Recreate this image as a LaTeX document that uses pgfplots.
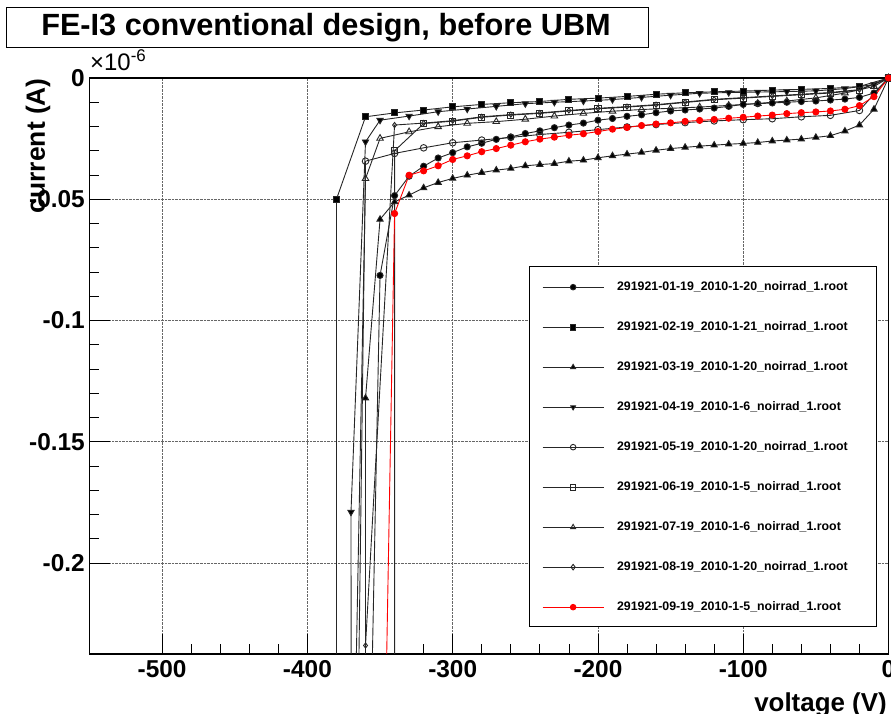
\documentclass[border=0pt]{standalone}
\usepackage{fontspec}
\setmainfont{Liberation Sans}
\usepackage{pgfplots}
\pgfplotsset{compat=1.18}

\newcommand\lbl[1]{\fontsize{#1}{#1}\selectfont\bfseries}

\pgfplotsset{
  ivline/.style={black!85, line width=0.9bp, mark options={solid}},
}

\begin{document}
\begin{tikzpicture}
\useasboundingbox (-89.5bp,-60bp) rectangle (801.5bp,654bp);
\begin{axis}[
  at={(0,0)}, anchor=south west,
  scale only axis, width=799bp, height=576bp,
  xmin=-550, xmax=0, ymin=-0.2375, ymax=0,
  xtick={-500,-400,-300,-200,-100,0},
  xticklabels={-500,-400,-300,-200,-100,0},
  ytick={-0.2,-0.15,-0.1,-0.05,0},
  yticklabels={-0.2,-0.15,-0.1,-0.05,0},
  minor x tick num=4, minor y tick num=4,
  tick align=inside, tick pos=left,
  major tick length=20bp, minor tick length=10bp,
  grid=major, grid style={densely dotted, black!60, line width=0.6bp},
  axis line style={line width=1.1bp},
  tick style={black, line width=0.8bp},
  ticklabel style={font=\lbl{24.5}},
  xticklabel style={inner sep=0pt, yshift=-6bp},
  yticklabel style={inner sep=0pt, xshift=-4.5bp},
  xlabel={voltage (V)},
  xlabel style={at={(axis description cs:0.998,-0.1007)}, anchor=base east, inner sep=0pt, font=\lbl{26}},
  ylabel={current (A)},
  ylabel style={at={(axis description cs:-0.0557,1)}, anchor=base east, inner sep=0pt, font=\lbl{26.5}},
  legend style={at={(0.5663,0.6476)}, anchor=north west, draw=none, fill=none,
    inner sep=0pt, row sep=28bp, column sep=13bp, font=\lbl{12.4},
    nodes={inner sep=0pt, text height=9bp, text depth=3bp}, cells={anchor=west}},
  legend image code/.code={\draw[mark repeat=2,mark phase=2,#1,mark size=2.8bp] plot coordinates {(0bp,0bp) (30.5bp,0bp) (61bp,0bp)};},
]

% 01 filled circle
\addplot[ivline, mark=*, mark size=3.1bp, mark options={fill=black}] coordinates {
(0,0) (-10,-0.0062) (-20,-0.0080) (-30,-0.0087) (-40,-0.0091) (-50,-0.0095)
(-60,-0.0097) (-70,-0.0100) (-80,-0.0103) (-90,-0.0106) (-100,-0.0109)
(-110,-0.0117) (-120,-0.0124) (-130,-0.0128) (-140,-0.0132) (-150,-0.0136)
(-160,-0.0143) (-170,-0.0152) (-180,-0.0158) (-190,-0.0167) (-200,-0.0174)
(-210,-0.0186) (-220,-0.0194) (-230,-0.0205) (-240,-0.0218) (-250,-0.0229)
(-260,-0.0243) (-270,-0.0253) (-280,-0.0269) (-290,-0.0284) (-300,-0.0308)
(-310,-0.0330) (-320,-0.0364) (-330,-0.0405) (-340,-0.0485) (-350,-0.0814)
(-356,-0.26)
};
\addlegendentry{291921-01-19\_2010-1-20\_noirrad\_1.root}

% 02 filled square
\addplot[ivline, mark=square*, mark size=3bp, mark options={fill=black}] coordinates {
(0,0) (-20,-0.0035) (-40,-0.0043) (-60,-0.0047) (-80,-0.0050) (-100,-0.0054)
(-120,-0.0057) (-140,-0.0061) (-160,-0.0067) (-180,-0.0076) (-200,-0.0083)
(-220,-0.0088) (-240,-0.0097) (-260,-0.0102) (-280,-0.0109) (-300,-0.0119)
(-320,-0.0132) (-340,-0.0144) (-360,-0.0160) (-380,-0.0500) (-380,-0.5)
};
\addlegendentry{291921-02-19\_2010-1-21\_noirrad\_1.root}

% 03 filled triangle
\addplot[ivline, mark=triangle*, mark size=3.6bp, mark options={fill=black}] coordinates {
(0,0) (-10,-0.0129) (-20,-0.0194) (-30,-0.0219) (-40,-0.0238) (-50,-0.0245)
(-60,-0.0252) (-70,-0.0256) (-80,-0.0260) (-90,-0.0266) (-100,-0.0270)
(-110,-0.0273) (-120,-0.0277) (-130,-0.0281) (-140,-0.0286) (-150,-0.0291)
(-160,-0.0298) (-170,-0.0307) (-180,-0.0314) (-190,-0.0321) (-200,-0.0329)
(-210,-0.0339) (-220,-0.0343) (-230,-0.0353) (-240,-0.0357) (-250,-0.0362)
(-260,-0.0373) (-270,-0.0380) (-280,-0.0390) (-290,-0.0401) (-300,-0.0414)
(-310,-0.0431) (-320,-0.0453) (-330,-0.0483) (-340,-0.0511) (-350,-0.0583)
(-360,-0.1320) (-360,-0.5)
};
\addlegendentry{291921-03-19\_2010-1-20\_noirrad\_1.root}

% 04 inverted triangle
\addplot[ivline, mark=triangle*, mark size=3.6bp, mark options={fill=black, rotate=180}] coordinates {
(0,0) (-10,-0.0027) (-30,-0.0044) (-50,-0.0053) (-70,-0.0056) (-90,-0.0058)
(-110,-0.0060) (-130,-0.0063) (-150,-0.0071) (-170,-0.0080) (-190,-0.0089)
(-210,-0.0095) (-230,-0.0100) (-250,-0.0106) (-270,-0.0117) (-290,-0.0128)
(-310,-0.0139) (-330,-0.0157) (-350,-0.0174) (-360,-0.0263) (-370,-0.1790)
(-369.5,-0.5)
};
\addlegendentry{291921-04-19\_2010-1-6\_noirrad\_1.root}

% 05 open circle
\addplot[ivline, mark=o, mark size=3.3bp] coordinates {
(0,0) (-20,-0.0134) (-40,-0.0154) (-60,-0.0160) (-80,-0.0168) (-100,-0.0172)
(-120,-0.0177) (-140,-0.0184) (-160,-0.0192) (-180,-0.0202) (-200,-0.0213)
(-220,-0.0224) (-240,-0.0233) (-260,-0.0245) (-280,-0.0256) (-300,-0.0267)
(-320,-0.0288) (-340,-0.0311) (-360,-0.0343) (-365,-0.26)
};
\addlegendentry{291921-05-19\_2010-1-20\_noirrad\_1.root}

% 06 open square
\addplot[ivline, mark=square, mark size=3.1bp] coordinates {
(0,0) (-20,-0.0050) (-40,-0.0062) (-60,-0.0069) (-80,-0.0076) (-100,-0.0083)
(-120,-0.0090) (-140,-0.0101) (-160,-0.0112) (-180,-0.0120) (-200,-0.0127)
(-220,-0.0136) (-240,-0.0146) (-260,-0.0153) (-280,-0.0162) (-300,-0.0178)
(-320,-0.0188) (-340,-0.0300) (-340,-0.5)
};
\addlegendentry{291921-06-19\_2010-1-5\_noirrad\_1.root}

% 07 open triangle
\addplot[ivline, mark=triangle, mark size=3.8bp] coordinates {
(0,0) (-10,-0.0035) (-30,-0.0062) (-50,-0.0082) (-70,-0.0095) (-90,-0.0105)
(-110,-0.0113) (-130,-0.0120) (-150,-0.0125) (-170,-0.0130) (-190,-0.0137)
(-210,-0.0146) (-230,-0.0157) (-250,-0.0170) (-270,-0.0180) (-290,-0.0187)
(-310,-0.0201) (-330,-0.0222) (-350,-0.0249) (-360,-0.0415) (-367,-0.26)
};
\addlegendentry{291921-07-19\_2010-1-6\_noirrad\_1.root}

% 08 open diamond
\addplot[ivline, mark=diamond, mark size=2.6bp] coordinates {
(0,0) (-20,-0.0048) (-40,-0.0060) (-60,-0.0067) (-80,-0.0074) (-100,-0.0081)
(-120,-0.0088) (-140,-0.0099) (-160,-0.0110) (-180,-0.0118) (-200,-0.0125)
(-220,-0.0134) (-240,-0.0144) (-260,-0.0151) (-280,-0.0160) (-300,-0.0176)
(-320,-0.0186) (-340,-0.0194) (-360,-0.2340) (-360,-0.5)
};
\addlegendentry{291921-08-19\_2010-1-20\_noirrad\_1.root}

% 09 red filled circle
\addplot[red, line width=0.9bp, mark=*, mark size=3.1bp, mark options={solid, fill=red}] coordinates {
(0,0) (-10,-0.0077) (-20,-0.0114) (-30,-0.0129) (-40,-0.0136) (-50,-0.0140)
(-60,-0.0143) (-70,-0.0147) (-80,-0.0153) (-90,-0.0157) (-100,-0.0162)
(-110,-0.0166) (-120,-0.0171) (-130,-0.0175) (-140,-0.0179) (-150,-0.0185)
(-160,-0.0190) (-170,-0.0196) (-180,-0.0204) (-190,-0.0211) (-200,-0.0221)
(-210,-0.0230) (-220,-0.0236) (-230,-0.0244) (-240,-0.0252) (-250,-0.0263)
(-260,-0.0277) (-270,-0.0291) (-280,-0.0304) (-290,-0.0321) (-300,-0.0336)
(-310,-0.0362) (-320,-0.0383) (-330,-0.0401) (-340,-0.0559) (-350,-0.392)
};
\addlegendentry{291921-09-19\_2010-1-5\_noirrad\_1.root}

% legend frame, drawn over the curves and under the legend entries
\draw[line width=1bp, fill=white] (rel axis cs:0.5501,0.0469) rectangle (rel axis cs:0.9844,0.6719);
\end{axis}

% title box
\draw[line width=1bp, fill=white] (-82.5bp,606bp) rectangle (558.5bp,646bp);
\node[anchor=base, inner sep=0pt, font=\lbl{30.8}] at (236.5bp,618bp) {FE-I3 conventional design, before UBM};
% exponent of the y axis
\node[anchor=base west, inner sep=0pt, font=\fontsize{24}{24}\selectfont] at (0.5bp,583bp) {×10\raisebox{9bp}{\fontsize{17}{17}\selectfont -6}};
\end{tikzpicture}
\end{document}
